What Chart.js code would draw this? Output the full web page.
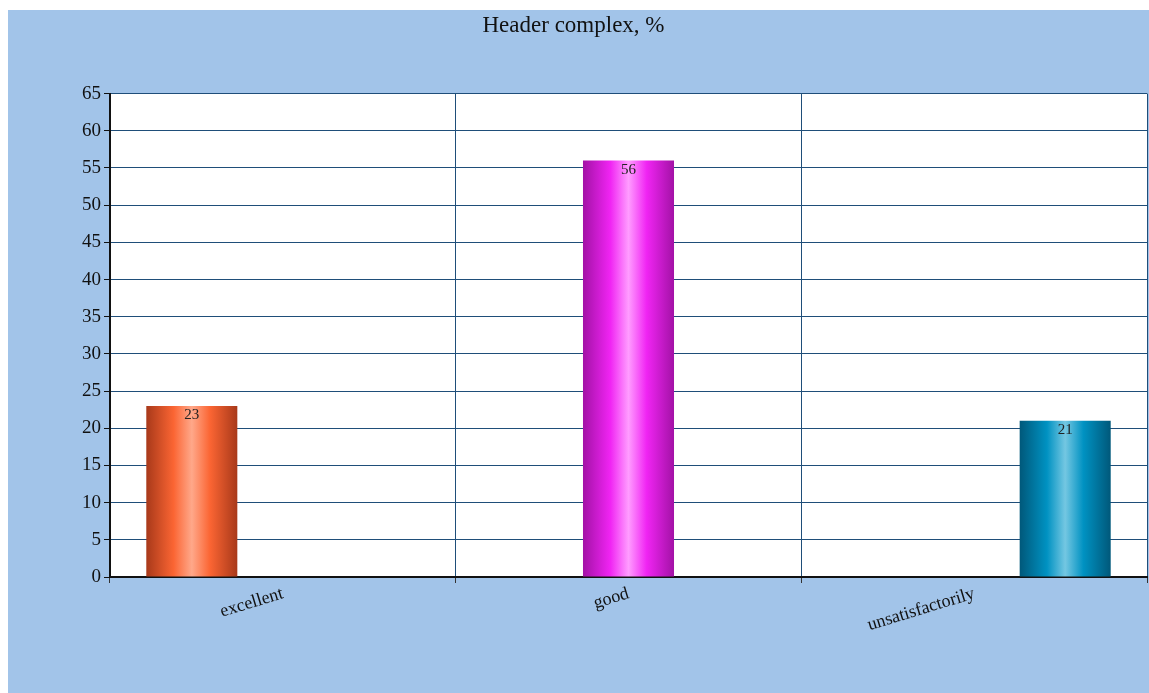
<!DOCTYPE html>
<html>
<head>
<meta charset="utf-8">
<script src="https://cdn.jsdelivr.net/npm/chart.js@4"></script>
<style>
  html, body { margin: 0; padding: 0; background: #fff; }
  #wrap { width: 1149px; height: 693px; }
</style>
</head>
<body>
<div id="wrap"><canvas id="myBarChart" width="1149" height="693"></canvas></div>
<script>
// 데이터
const categories = ['excellent', 'good', 'unsatisfactorily'];
const values = [23, 56, 21];
const yTicks = [0, 5, 10, 15, 20, 25, 30, 35, 40, 45, 50, 55, 60, 65];
// 막대 색 (가장자리, 본색, 하이라이트)
const barShades = [
    ['#a8391a', '#fb6533', '#ffa88a'],
    ['#a312a6', '#f024f3', '#ff9cff'],
    ['#00587a', '#0092c2', '#74c7e2']
];

const serif = "'Liberation Serif', 'DejaVu Serif', serif";

// 배경 그리기
const bgPlugin = {
    id: 'bg',
    beforeDraw(chart) {
        const c = chart.ctx, a = chart.chartArea;
        c.save();
        c.fillStyle = '#fff';
        c.fillRect(0, 0, chart.width, chart.height);
        c.fillStyle = '#a2c4e9';
        c.fillRect(8, 10, chart.width - 8, chart.height - 10);
        c.fillStyle = '#fff';
        c.fillRect(a.left, a.top, a.right - a.left, a.bottom - a.top);
        c.restore();
    }
};

// 원통 느낌 그라디언트 + 값 표시
const gradPlugin = {
    id: 'grad',
    beforeDatasetsDraw(chart) {
        const c = chart.ctx;
        chart.data.datasets.forEach((ds, i) => {
            const meta = chart.getDatasetMeta(i);
            meta.data.forEach((el, j) => {
                if (ds.data[j] == null) return;
                const s = barShades[i];
                const g = c.createLinearGradient(el.x - el.width / 2, 0, el.x + el.width / 2, 0);
                g.addColorStop(0, s[0]);
                g.addColorStop(0.3, s[1]);
                g.addColorStop(0.5, s[2]);
                g.addColorStop(0.7, s[1]);
                g.addColorStop(1, s[0]);
                el.options.backgroundColor = g;
            });
        });
    },
    afterDatasetsDraw(chart) {
        const c = chart.ctx;
        c.save();
        c.font = '15px ' + serif;
        c.fillStyle = '#222';
        c.textAlign = 'center';
        c.textBaseline = 'top';
        chart.data.datasets.forEach((ds, i) => {
            const meta = chart.getDatasetMeta(i);
            meta.data.forEach((el, j) => {
                if (ds.data[j] == null) return;
                c.fillText(ds.data[j], el.x, el.y + 2);
            });
        });
        c.restore();
    }
};

const datasets = categories.map((cat, i) => ({
    label: cat,
    data: categories.map((c, j) => (j === i ? values[i] : null)),
    backgroundColor: barShades[i][1],
    borderWidth: 0,
    categoryPercentage: 0.79,
    barPercentage: 1
}));

const ctx = document.getElementById('myBarChart').getContext('2d');
const myBarChart = new Chart(ctx, {
    type: 'bar',
    data: { labels: categories, datasets: datasets },
    options: {
        responsive: false,
        animation: false,
        layout: { padding: { left: 0, right: 2, top: 0, bottom: 0 } },
        plugins: {
            legend: { display: false },
            tooltip: { enabled: false },
            title: {
                display: true,
                text: 'Header complex, %',
                color: '#111',
                font: { family: serif, size: 23, weight: 'normal' },
                padding: { top: 12, bottom: 54 }
            }
        },
        scales: {
            x: {
                grid: { offset: true, color: '#1f4e79', lineWidth: 1, tickLength: 6, tickColor: '#333' },
                border: { color: '#111', width: 2 },
                ticks: {
                    color: '#111',
                    font: { family: serif, size: 18 },
                    minRotation: 17,
                    maxRotation: 17,
                    padding: 0
                },
                afterFit(scale) { scale.height = 116; }
            },
            y: {
                min: 0,
                max: 65,
                afterBuildTicks(scale) { scale.ticks = yTicks.map(v => ({ value: v })); },
                grid: { color: '#1f4e79', lineWidth: 1, tickLength: 6, tickColor: '#111' },
                border: { color: '#111', width: 2 },
                ticks: {
                    color: '#111',
                    font: { family: serif, size: 19 },
                    padding: 3
                },
                afterFit(scale) { scale.width = 110; }
            }
        }
    },
    plugins: [bgPlugin, gradPlugin]
});
</script>
</body>
</html>
